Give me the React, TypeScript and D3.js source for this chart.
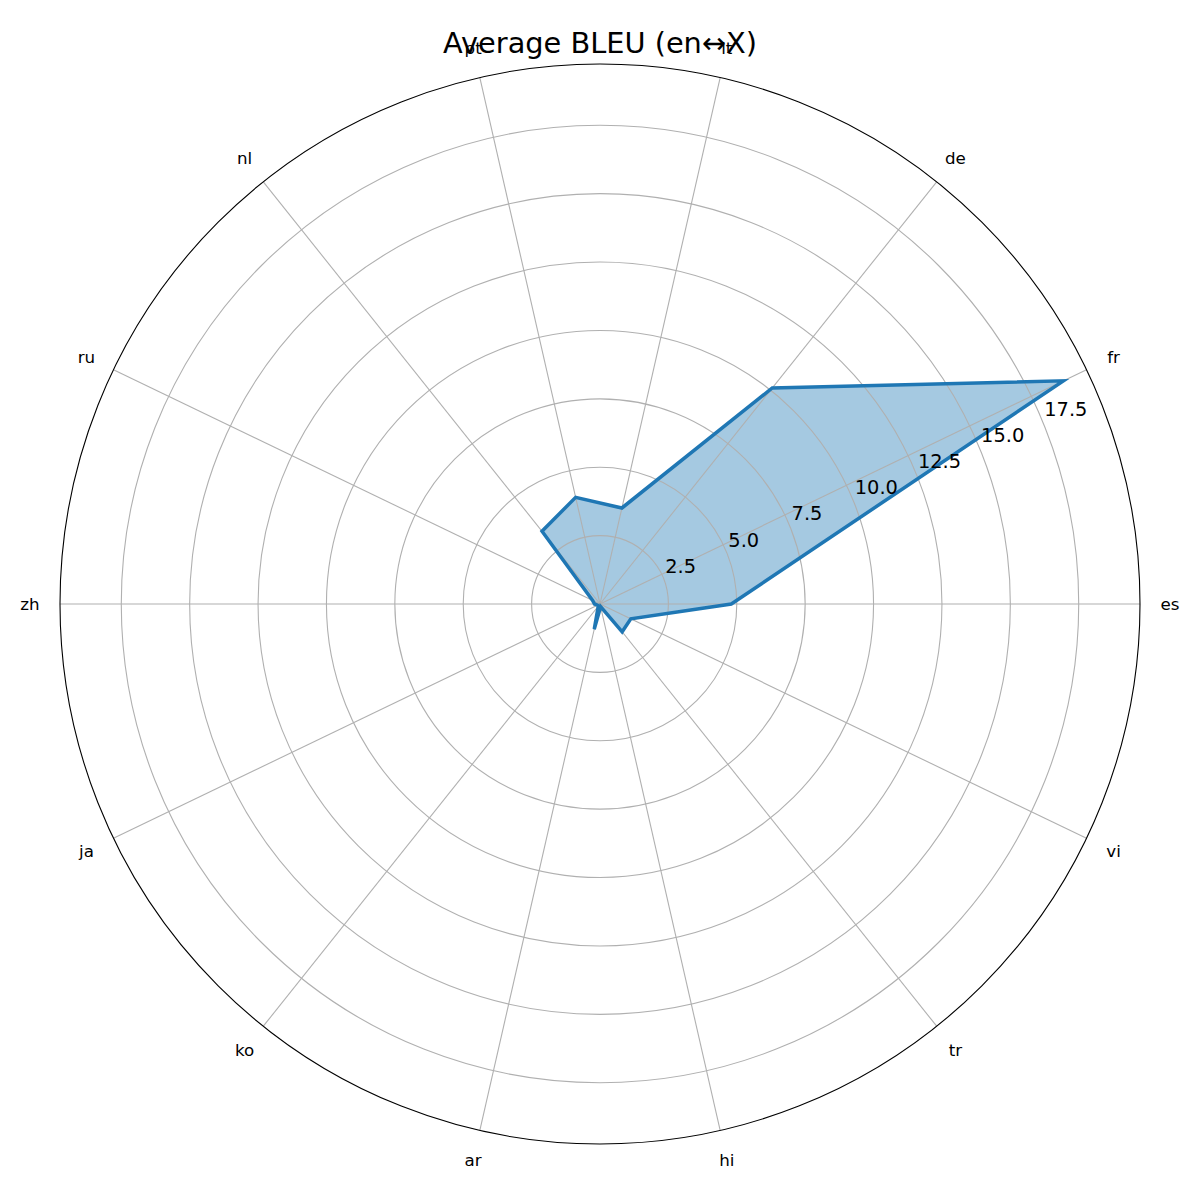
import React, { useEffect, useRef } from 'react';
import * as d3 from 'd3';

// languages, counter-clockwise from 3 o'clock
const languages = ['es', 'fr', 'de', 'it', 'pt', 'nl', 'ru', 'zh', 'ja', 'ko', 'ar', 'hi', 'tr', 'vi'];
const bleuScores = [4.8, 18.8, 10.1, 3.6, 4.0, 3.4, 0.3, 0.2, 0.1, 0.1, 0.95, 0.1, 1.3, 1.25];
const radialTicks = [2.5, 5.0, 7.5, 10.0, 12.5, 15.0, 17.5];
const chartTitle = 'Average BLEU (en↔X)';

const App: React.FC = () => {
  const svgRef = useRef<SVGSVGElement>(null);

  useEffect(() => {
    if (!svgRef.current) return;
    const svg = d3.select(svgRef.current);
    svg.selectAll('*').remove();

    const width = 1200;
    const height = 1200;
    const cx = 600;
    const cy = 604;
    const outerR = 540;
    const font = 'DejaVu Sans, sans-serif';
    const blue = '#1f77b4';

    const rMax = (d3.max(bleuScores) as number) * 1.05;
    const r = d3.scaleLinear().domain([0, rMax]).range([0, outerR]);
    const theta = d3.scaleLinear().domain([0, languages.length]).range([0, 2 * Math.PI]);

    const px = (th: number, rad: number) => cx + rad * Math.cos(th);
    const py = (th: number, rad: number) => cy - rad * Math.sin(th);

    svg.append('rect').attr('width', width).attr('height', height).attr('fill', '#ffffff');

    const g = svg.append('g').attr('transform', `translate(${cx},${cy})`);

    // data polygon (fill under the grid, like matplotlib)
    const radial = d3.lineRadial<number>()
      .angle((_, i) => Math.PI / 2 - theta(i))
      .radius(d => r(d))
      .curve(d3.curveLinearClosed);

    g.append('path')
      .attr('d', radial(bleuScores))
      .attr('fill', blue)
      .attr('fill-opacity', 0.4)
      .attr('stroke', 'none');

    // grid circles
    g.selectAll('.ring')
      .data(radialTicks)
      .enter().append('circle')
      .attr('class', 'ring')
      .attr('r', d => r(d))
      .attr('fill', 'none')
      .attr('stroke', '#b0b0b0')
      .attr('stroke-width', 1.1);

    // spokes
    g.selectAll('.spoke')
      .data(languages)
      .enter().append('line')
      .attr('class', 'spoke')
      .attr('x1', 0).attr('y1', 0)
      .attr('x2', (_, i) => outerR * Math.cos(theta(i)))
      .attr('y2', (_, i) => -outerR * Math.sin(theta(i)))
      .attr('stroke', '#b0b0b0')
      .attr('stroke-width', 1.1);

    // outline
    g.append('path')
      .attr('d', radial(bleuScores))
      .attr('fill', 'none')
      .attr('stroke', blue)
      .attr('stroke-width', 3.5)
      .attr('stroke-linejoin', 'miter');

    // outer frame
    g.append('circle')
      .attr('r', outerR)
      .attr('fill', 'none')
      .attr('stroke', '#000000')
      .attr('stroke-width', 1.1);

    // category labels
    const labelR = outerR + 30;
    svg.selectAll('.cat')
      .data(languages)
      .enter().append('text')
      .attr('class', 'cat')
      .attr('x', (_, i) => px(theta(i), labelR))
      .attr('y', (_, i) => py(theta(i), labelR))
      .attr('text-anchor', 'middle')
      .attr('dominant-baseline', 'central')
      .style('font-family', font)
      .style('font-size', '16.7px')
      .style('fill', '#000000')
      .text(d => d);

    // radial tick labels along 22.5 degrees
    const labelAngle = (22.5 * Math.PI) / 180;
    svg.selectAll('.rtick')
      .data(radialTicks)
      .enter().append('text')
      .attr('class', 'rtick')
      .attr('x', d => px(labelAngle, r(d)) + 2)
      .attr('y', d => py(labelAngle, r(d)) - 5)
      .attr('text-anchor', 'start')
      .style('font-family', font)
      .style('font-size', '19.4px')
      .style('fill', '#000000')
      .text(d => d.toFixed(1));

    // title
    svg.append('text')
      .attr('x', width / 2)
      .attr('y', 53)
      .attr('text-anchor', 'middle')
      .style('font-family', font)
      .style('font-size', '28.8px')
      .style('fill', '#000000')
      .text(chartTitle);
  }, []);

  return (
    <div style={{ position: 'absolute', left: 0, top: 0 }}>
      <svg ref={svgRef} width={1200} height={1200} style={{ display: 'block' }} />
    </div>
  );
};

export default App;
